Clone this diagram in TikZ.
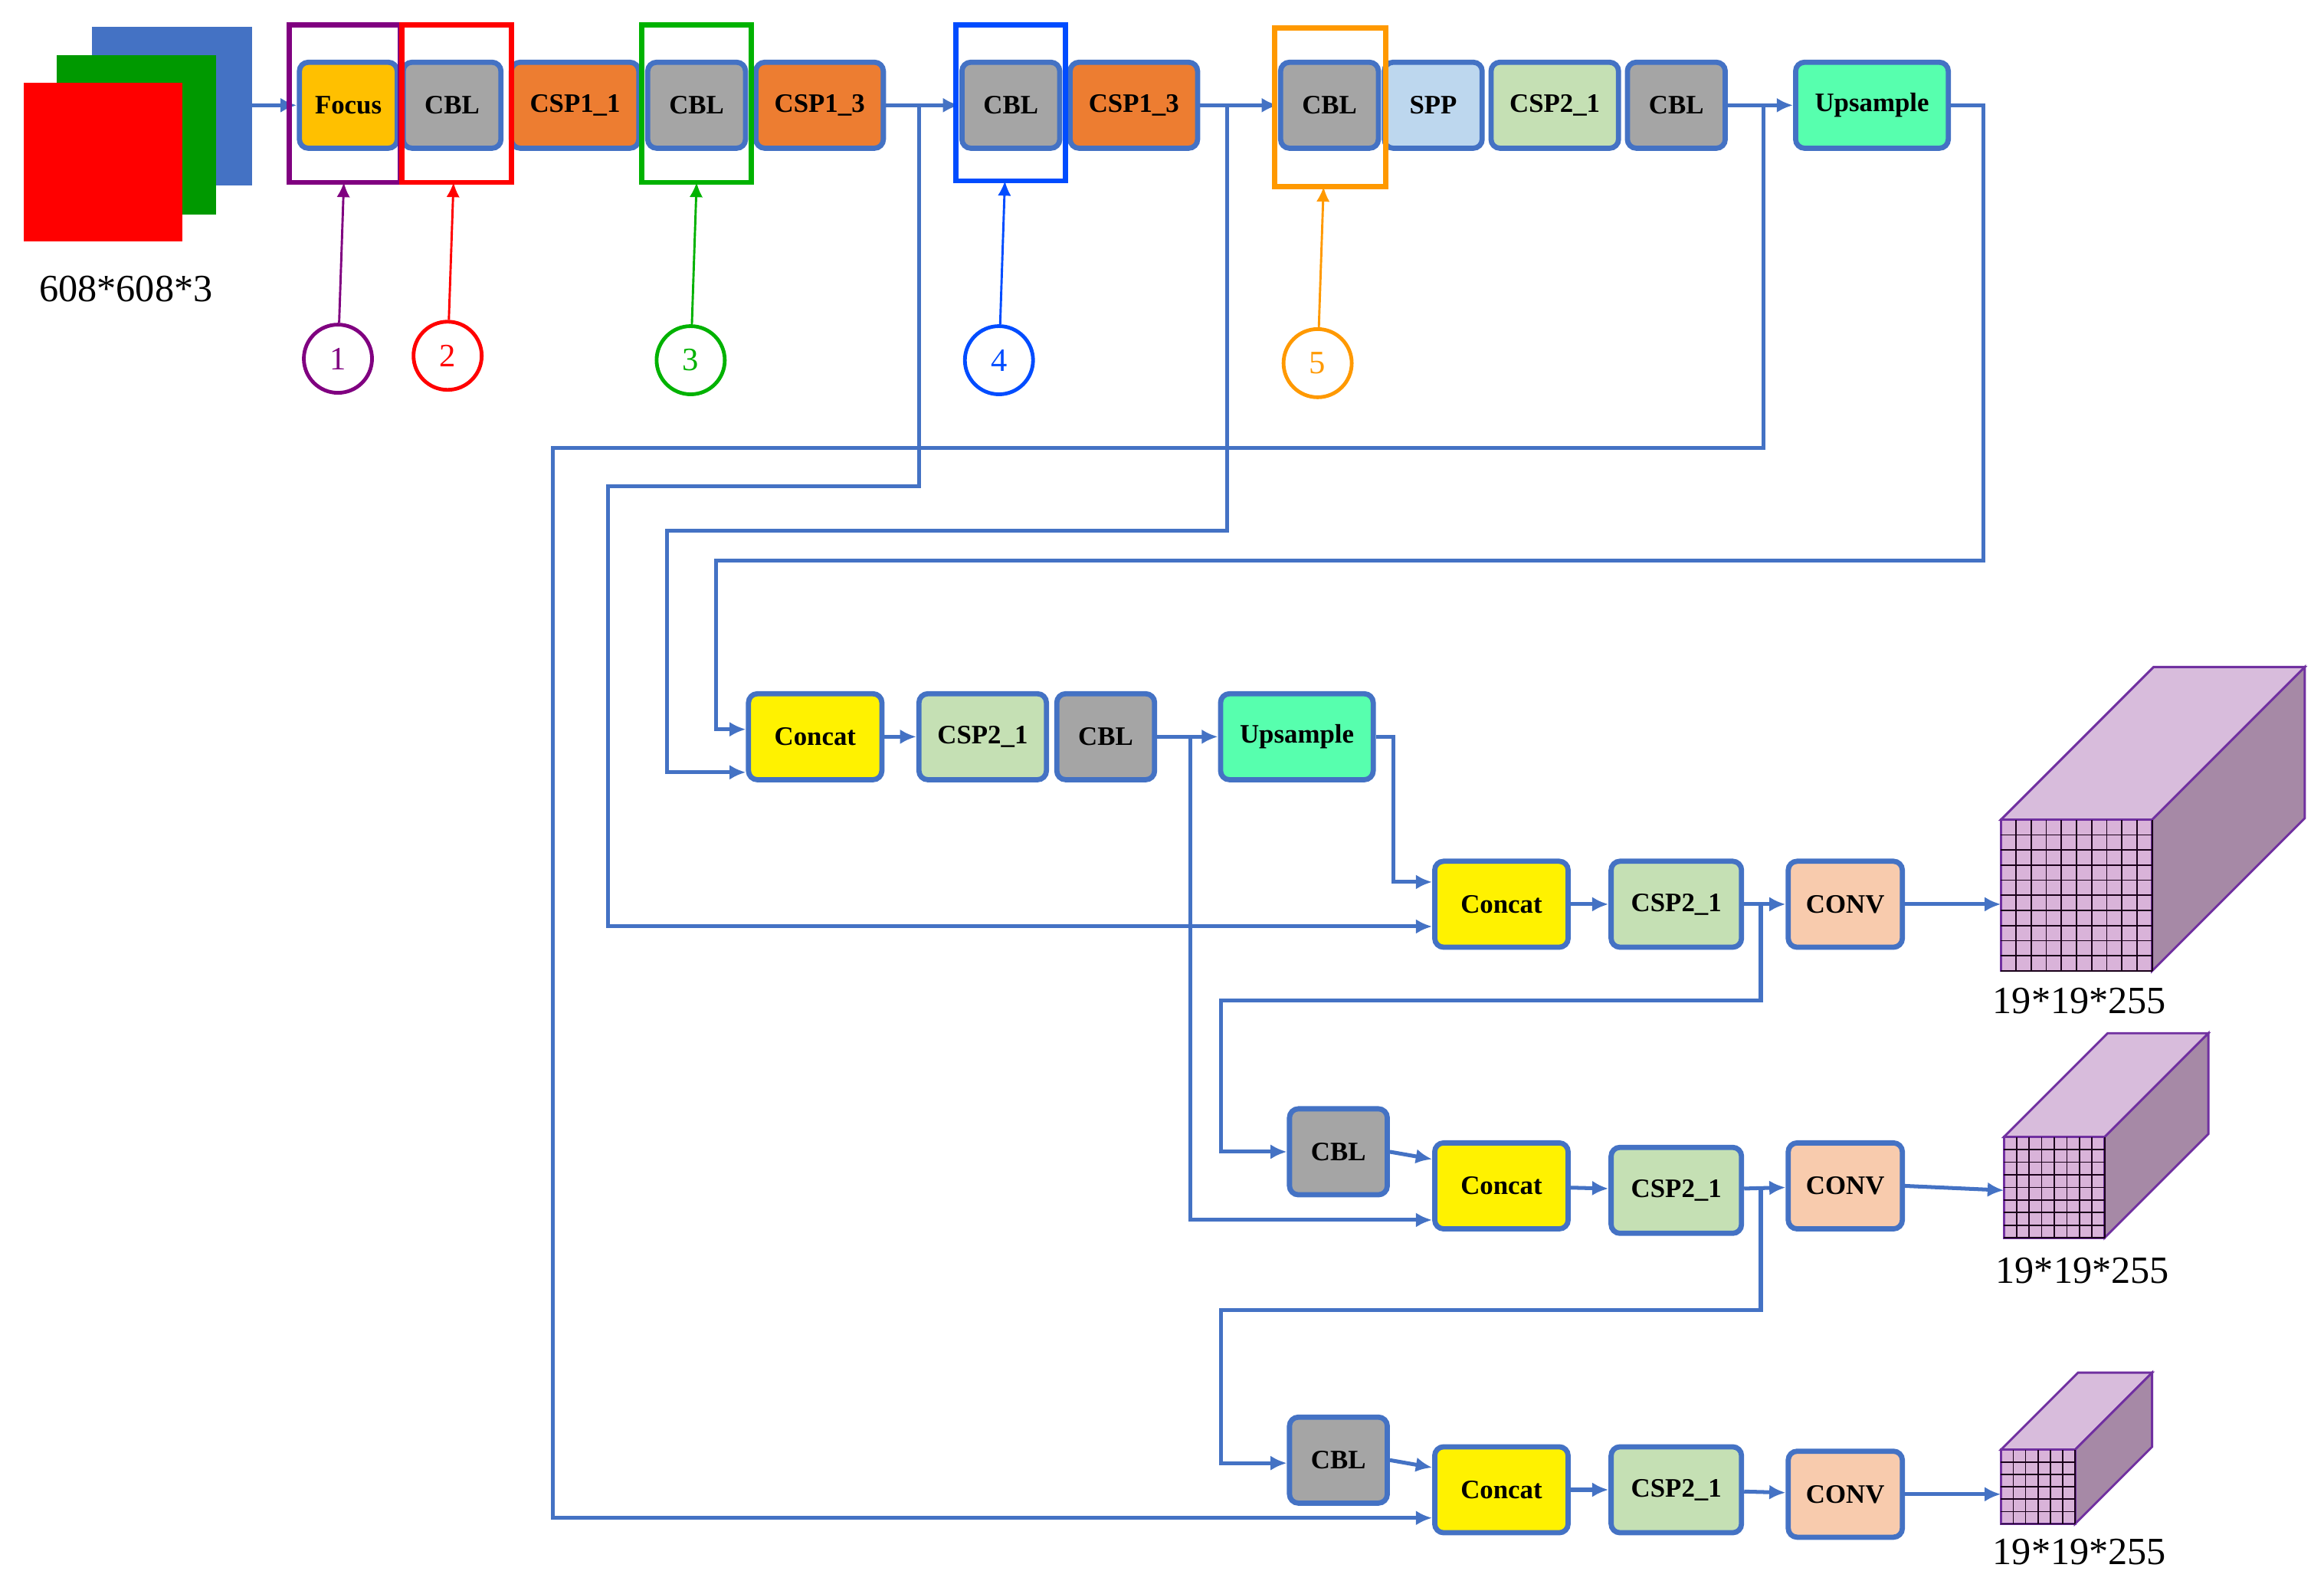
\documentclass[tikz,border=0pt]{standalone}
\usepackage{fontspec}
\setmainfont{Liberation Serif}
\usetikzlibrary{arrows.meta}
\definecolor{bord}{HTML}{4472C4}
\definecolor{cfocus}{HTML}{FFC000}
\definecolor{ccbl}{HTML}{A5A5A5}
\definecolor{ccsp1}{HTML}{ED7D31}
\definecolor{cspp}{HTML}{BDD7EE}
\definecolor{ccsp2}{HTML}{C5E0B4}
\definecolor{cup}{HTML}{57FFAE}
\definecolor{cconv}{HTML}{F8CBAD}
\definecolor{cfront}{HTML}{D9B3D9}
\definecolor{ctop}{HTML}{D8BCDC}
\definecolor{cside}{HTML}{A689A6}
\definecolor{cedge}{HTML}{7030A0}
\tikzset{
 blk/.style={draw=bord,line width=3.5pt,rounded corners=6pt,minimum width=66pt,minimum height=58pt,font=\fontsize{18}{20}\selectfont\bfseries,inner sep=0pt},
 arr/.style={draw=bord,line width=2.6pt,-{Latex[length=11pt,width=10pt]}},
 ln/.style={draw=bord,line width=2.6pt},
 circ/.style={circle,draw,line width=2.5pt,minimum size=46pt,inner sep=0pt,font=\fontsize{22}{24}\selectfont},
 hb/.style={line width=3.5pt},
 lab/.style={font=\fontsize{26}{28}\selectfont}
}
\begin{document}
\begin{tikzpicture}[x=1pt,y=-1pt]
\useasboundingbox (0,0) rectangle (1568,1075);
% input
\fill[bord] (62,18) rectangle (170,125);
\fill[green!60!black] (38,37) rectangle (146,145);
\fill[red] (16,56) rectangle (123,163);
\node[lab] (inlab) at (85,195) {608*608*3};
\coordinate (in) at (170,71);
% top row
\node[blk,fill=cfocus] (focus) at (235,71) {Focus};
\node[blk,fill=ccbl] (cbl1) at (305,71) {CBL};
\node[blk,fill=ccsp1,minimum width=86pt] (csp11) at (388,71) {CSP1\_1};
\node[blk,fill=ccbl] (cbl2) at (470,71) {CBL};
\node[blk,fill=ccsp1,minimum width=86pt] (csp13a) at (553,71) {CSP1\_3};
\node[blk,fill=ccbl] (cbl3) at (682,71) {CBL};
\node[blk,fill=ccsp1,minimum width=86pt] (csp13b) at (765,71) {CSP1\_3};
\node[blk,fill=ccbl] (cbl4) at (897,71) {CBL};
\node[blk,fill=cspp] (spp) at (967,71) {SPP};
\node[blk,fill=ccsp2,minimum width=86pt] (csp21a) at (1049,71) {CSP2\_1};
\node[blk,fill=ccbl] (cbl5) at (1131,71) {CBL};
\node[blk,fill=cup,minimum width=103pt] (up1) at (1263,71) {Upsample};
\draw[arr] (in) -- (focus);
\draw[arr] (csp13a) -- (cbl3);
\draw[arr] (csp13b) -- (cbl4);
\draw[arr] (cbl5) -- (up1);
% highlight boxes
\draw[hb,violet] (195,17) rectangle (270,123);
\draw[hb,red] (271,17) rectangle (345,123);
\draw[hb,green!70!black] (433,17) rectangle (507,123);
\draw[hb,blue!70!cyan] (645,17) rectangle (719,122);
\draw[hb,orange!80!yellow] (860,19) rectangle (935,126);
\node[circ,violet] (n1) at (228,242) {1};
\node[circ,red] (n2) at (302,240) {2};
\node[circ,green!70!black] (n3) at (466,243) {3};
\node[circ,blue!70!cyan] (n4) at (674,243) {4};
\node[circ,orange!80!yellow] (n5) at (889,245) {5};
\coordinate (t1) at (232,123); \coordinate (t2) at (306,123); \coordinate (t3) at (470,123);
\coordinate (t4) at (678,122); \coordinate (t5) at (893,126);
\draw[violet,line width=1.5pt,-{Latex[length=10pt,width=9pt]}] (n1) -- (t1);
\draw[red,line width=1.5pt,-{Latex[length=10pt,width=9pt]}] (n2) -- (t2);
\draw[green!70!black,line width=1.5pt,-{Latex[length=10pt,width=9pt]}] (n3) -- (t3);
\draw[blue!70!cyan,line width=1.5pt,-{Latex[length=10pt,width=9pt]}] (n4) -- (t4);
\draw[orange!80!yellow,line width=1.5pt,-{Latex[length=10pt,width=9pt]}] (n5) -- (t5);
% row 2
\node[blk,fill=yellow,minimum width=90pt] (cc1) at (550,497) {Concat};
\node[blk,fill=ccsp2,minimum width=86pt] (csp2b) at (663,497) {CSP2\_1};
\node[blk,fill=ccbl] (cbl6) at (746,497) {CBL};
\node[blk,fill=cup,minimum width=103pt] (up2) at (875,497) {Upsample};
\draw[arr] (cc1) -- (csp2b);
\draw[arr] (cbl6) -- (up2);
% row 3
\node[blk,fill=yellow,minimum width=90pt] (cc2) at (1013,610) {Concat};
\node[blk,fill=ccsp2,minimum width=88pt] (csp2c) at (1131,610) {CSP2\_1};
\node[blk,fill=cconv,minimum width=77pt] (conv1) at (1245,610) {CONV};
\draw[arr] (cc2) -- (csp2c); \draw[arr] (csp2c) -- (conv1);
% row 4
\node[blk,fill=ccbl] (cbl7) at (903,777) {CBL};
\node[blk,fill=yellow,minimum width=90pt] (cc3) at (1013,800) {Concat};
\node[blk,fill=ccsp2,minimum width=88pt] (csp2d) at (1131,803) {CSP2\_1};
\node[blk,fill=cconv,minimum width=77pt] (conv2) at (1245,800) {CONV};
\draw[arr] (cbl7.east) -- (cc3.west |- 0,782); \draw[arr] (cc3) -- (csp2d); \draw[arr] (csp2d) -- (conv2);
% row 5
\node[blk,fill=ccbl] (cbl8) at (903,985) {CBL};
\node[blk,fill=yellow,minimum width=90pt] (cc4) at (1013,1005) {Concat};
\node[blk,fill=ccsp2,minimum width=88pt] (csp2e) at (1131,1005) {CSP2\_1};
\node[blk,fill=cconv,minimum width=77pt] (conv3) at (1245,1008) {CONV};
\draw[arr] (cbl8.east) -- (cc4.west |- 0,990); \draw[arr] (cc4) -- (csp2e); \draw[arr] (csp2e) -- (conv3);
% long connectors
\draw[arr] (620,71) -- (620,328) -- (410,328) -- (410,625) -- (cc2.west |- 0,625);
\draw[arr] (828,71) -- (828,358) -- (450,358) -- (450,521) -- (cc1.west |- 0,521);
\draw[arr] (1190,71) -- (1190,302) -- (373,302) -- (373,1024) -- (cc4.west |- 0,1024);
\draw[arr] (up1.east) -- (1338,71) -- (1338,378) -- (483,378) -- (483,492) -- (cc1.west |- 0,492);
\draw[arr] (803,497) -- (803,823) -- (cc3.west |- 0,823);
\draw[arr] (up2.east) -- (940,497) -- (940,595) -- (cc2.west |- 0,595);
\draw[arr] (1188,610) -- (1188,675) -- (824,675) -- (824,777) -- (cbl7.west);
\draw[arr] (1188,803) -- (1188,884) -- (824,884) -- (824,987) -- (cbl8.west |- 0,987);
% cubes
\foreach \nm/\x/\y/\s/\d/\n/\ly in {A/1350/553/102/103/10/675, B/1352/767/68/70/8/857, C/1350/978/50/52/6/1047}{
  \fill[ctop,draw=cedge,line width=1.5pt] (\x,\y) -- ++(\d,-\d) -- ++(\s,0) -- ++(-\d,\d) -- cycle;
  \fill[cside,draw=cedge,line width=1.5pt] (\x+\s,\y) -- ++(\d,-\d) -- ++(0,\s) -- ++(-\d,\d) -- cycle;
  \fill[cfront,draw=cedge,line width=1.5pt] (\x,\y) rectangle ++(\s,\s);
  \foreach \i in {1,...,\n}{
    \draw[black!80!violet,line width=0.9pt] (\x+\i*\s/\n,\y) -- ++(0,\s);
    \draw[black!80!violet,line width=0.9pt] (\x,\y+\i*\s/\n) -- ++(\s,0);
  }
  \node[lab] (lab\nm) at (\x+53,\ly) {19*19*255};
  \coordinate (cube\nm) at (\x,\y+\s/2+5);
}
\draw[arr] (conv1.east) -- (cubeA |- 0,610);
\draw[arr] (conv2.east) -- (cubeB |- 0,803);
\draw[arr] (conv3.east) -- (cubeC |- 0,1008);
\end{tikzpicture}
\end{document}
